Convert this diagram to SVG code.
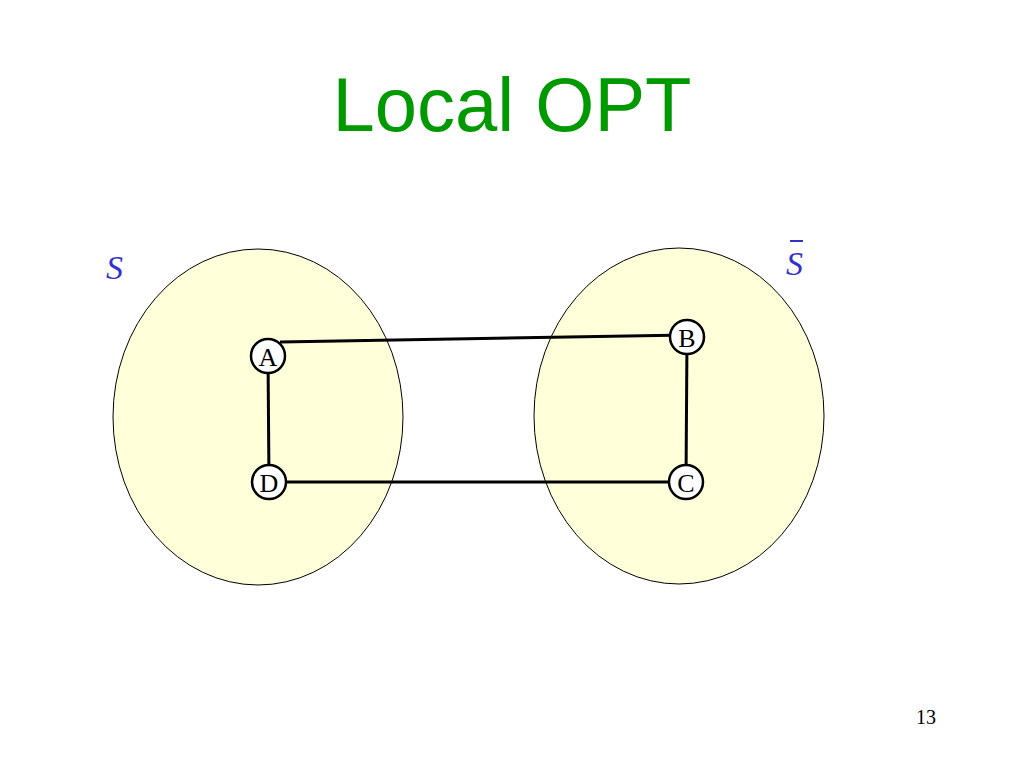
<svg xmlns="http://www.w3.org/2000/svg" width="1024" height="768" viewBox="0 0 1024 768">
<style>
.set{fill:#ffffd9;stroke:#000;stroke-width:1}
.node{fill:#fff;stroke:#000;stroke-width:2.5}
.lbl{font-family:"Liberation Serif",serif;font-size:26px;text-anchor:middle}
.edge{stroke:#000;stroke-width:3;fill:none}
.s{font-family:"Liberation Serif",serif;font-style:italic;font-size:34px;fill:#3333cc}
</style>
<rect width="1024" height="768" fill="#fff"/>
<text x="512" y="131" font-family="Liberation Sans,Arial,sans-serif" font-size="76" fill="#009900" text-anchor="middle">Local OPT</text>
<ellipse class="set" cx="258" cy="417" rx="145" ry="168"/>
<ellipse class="set" cx="679" cy="416" rx="145" ry="168"/>
<text class="s" x="106" y="279">S</text>
<text class="s" x="786" y="275">S</text>
<line x1="790" y1="241" x2="803" y2="241" stroke="#3333cc" stroke-width="2"/>
<g id="connectors">
<line class="edge" x1="280" y1="342" x2="687" y2="335"/>
<line class="edge" x1="687" y1="337" x2="686" y2="482"/>
<line class="edge" x1="686" y1="482" x2="269" y2="482"/>
<line class="edge" x1="269" y1="482" x2="268" y2="356"/>
</g>
<g id="A"><circle class="node" cx="268" cy="356" r="17"/><text class="lbl" x="268" y="366">A</text></g>
<g id="B"><circle class="node" cx="687" cy="337" r="17"/><text class="lbl" x="687" y="347">B</text></g>
<g id="C"><circle class="node" cx="686" cy="482" r="17"/><text class="lbl" x="686" y="492">C</text></g>
<g id="D"><circle class="node" cx="269" cy="482" r="17"/><text class="lbl" x="269" y="492">D</text></g>
<text x="926" y="724" font-family="Liberation Serif,serif" font-size="20" text-anchor="middle">13</text>
</svg>
